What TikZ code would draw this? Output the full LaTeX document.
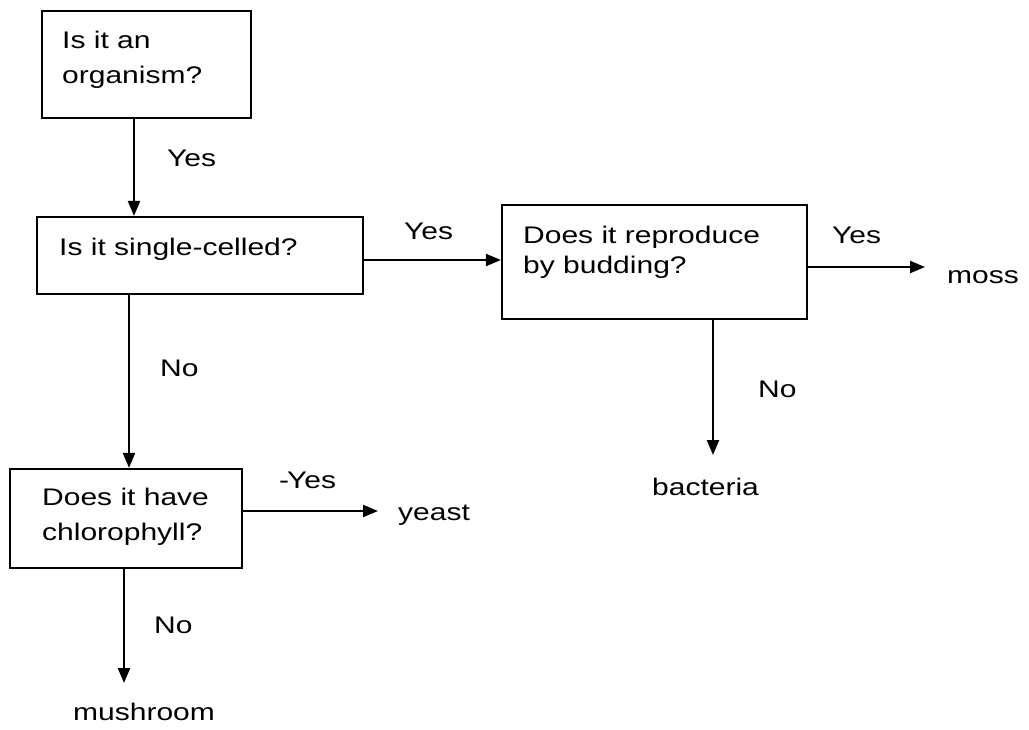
\documentclass[tikz,border=0pt]{standalone}
\usepackage{fontspec}
\setmainfont{Liberation Sans}[FakeStretch=1.25]
\usetikzlibrary{arrows.meta}
\begin{document}
\begin{tikzpicture}[x=1pt,y=-1pt,
  box/.style={draw, line width=2.2pt, rectangle, inner sep=0pt},
  txt/.style={inner sep=0pt, anchor=base west, align=left, font=\fontsize{24}{35}\selectfont},
  arr/.style={line width=2.2pt, -{Triangle[length=15pt,width=12pt]}}]
\useasboundingbox (0,0) rectangle (1029,729);
% boxes
\node[box, minimum width=209pt, minimum height=107pt] (b1) at (146.5,64.5) {};
\node[box, minimum width=326pt, minimum height=77pt] (b2) at (200,255.5) {};
\node[box, minimum width=305pt, minimum height=114pt] (b3) at (654.5,262) {};
\node[box, minimum width=232pt, minimum height=99pt] (b4) at (126,518.5) {};
% box texts (anchored at the baseline of the last line)
\node[txt] (t1) at (62,83) {Is it an\\organism?};
\node[txt] (t2) at (59,255) {Is it single-celled?};
\node[txt, font=\fontsize{24}{30}\selectfont] (t3) at (523,273) {Does it reproduce\\by budding?};
\node[txt] (t4) at (42,540) {Does it have\\chlorophyll?};
% end texts
\node[txt] (moss) at (947,283) {moss};
\node[txt] (bact) at (652,495) {bacteria};
\node[txt] (yeast) at (398,520) {yeast};
\node[txt] (mush) at (73,720) {mushroom};
% labels
\node[txt] (l1) at (167,166) {Yes};
\node[txt] (l2) at (404,239) {Yes};
\node[txt] (l3) at (832,243) {Yes};
\node[txt] (l4) at (758,397) {No};
\node[txt] (l5) at (160,376) {No};
\node[txt] (l6) at (279,488) {-\kern-2ptYes};
\node[txt] (l7) at (154,633) {No};
% free ends
\coordinate (e3) at (925,267);
\coordinate (e4) at (713,455);
\coordinate (e6) at (378,511);
\coordinate (e7) at (124,683);
% connectors
\draw[arr] ([xshift=-12.5pt]b1.south) -- ([xshift=-12.5pt]b1.south |- b2.north);
\draw[arr] ([yshift=-4.5pt]b2.east) -- ([yshift=-4.5pt]b2.east -| b3.west);
\draw[arr] (b3.east |- e3) -- (e3);
\draw[arr] (b3.south -| e4) -- (e4);
\draw[arr] ([xshift=-71pt]b2.south) -- ([xshift=-71pt]b2.south |- b4.north);
\draw[arr] (b4.east |- e6) -- (e6);
\draw[arr] (b4.south -| e7) -- (e7);
\end{tikzpicture}
\end{document}
